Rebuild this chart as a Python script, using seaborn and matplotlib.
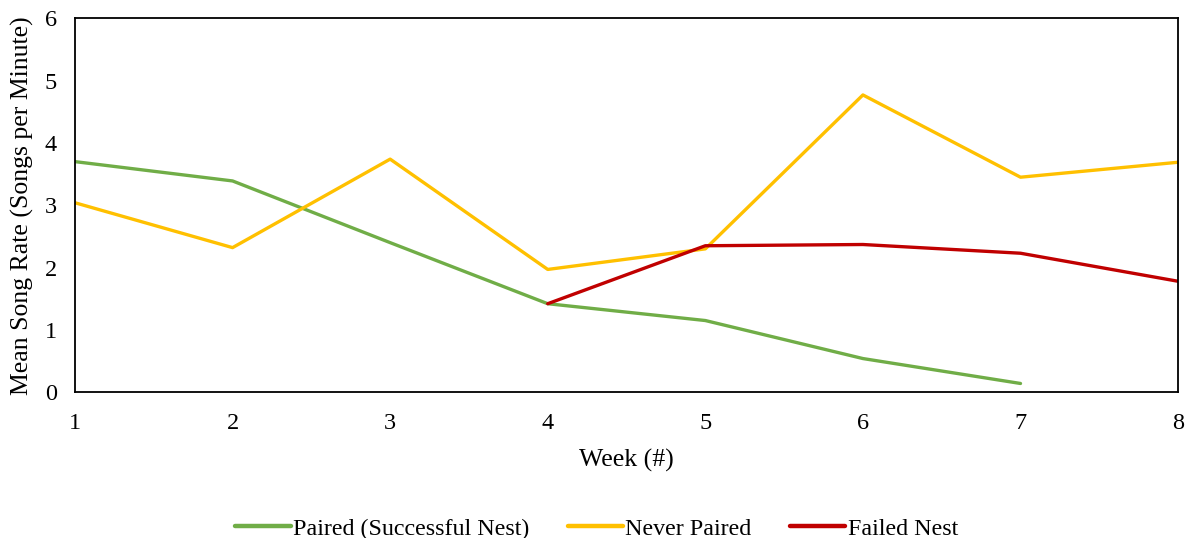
import matplotlib
matplotlib.use("Agg")
import matplotlib.pyplot as plt
import numpy as np
import pandas as pd
import seaborn as sns

weeks = [1, 2, 3, 4, 5, 6, 7, 8]
paired = [3.70, 3.39, 2.40, 1.42, 1.15, 0.54, 0.14, np.nan]
never_paired = [3.04, 2.32, 3.74, 1.97, 2.30, 4.77, 3.45, 3.69]
failed = [np.nan, np.nan, np.nan, 1.42, 2.35, 2.37, 2.23, 1.78]

group_names = ["Paired (Successful Nest)", "Never Paired", "Failed Nest"]
group_colors = ["#70AD47", "#FFC000", "#C00000"]

df = pd.DataFrame({
    "week": weeks * 3,
    "rate": paired + never_paired + failed,
    "group": [group_names[0]] * 8 + [group_names[1]] * 8 + [group_names[2]] * 8,
}).dropna()

sns.set_style("white")
plt.rcParams['font.family'] = ['Liberation Serif', 'DejaVu Serif']
plt.rcParams['text.color'] = 'black'
plt.rcParams['axes.labelcolor'] = 'black'
plt.rcParams['xtick.color'] = 'black'
plt.rcParams['ytick.color'] = 'black'

fig = plt.figure(figsize=(11.9, 5.38), dpi=100)
ax = fig.add_axes([0.063, 0.271, 0.927, 0.695])

sns.lineplot(data=df, x="week", y="rate", hue="group", hue_order=group_names,
             palette=group_colors, linewidth=2.4, ax=ax, legend=True)

ax.set_xlim(1, 8)
ax.set_ylim(0, 6)
ax.set_xticks(weeks)
ax.set_yticks(range(0, 7))
ax.tick_params(axis="x", labelsize=17.5, length=0, pad=15)
ax.tick_params(axis="y", labelsize=17.5, length=0, pad=13)
ax.set_xlabel("Week (#)", fontsize=18.5, labelpad=11)
ax.set_ylabel("Mean Song Rate (Songs per Minute)", fontsize=18.5, labelpad=8)

for sp in ax.spines.values():
    sp.set_visible(True)
    sp.set_color("black")
    sp.set_linewidth(1.3)

handles, labels = ax.get_legend_handles_labels()
leg = ax.legend(handles, labels, loc="center", bbox_to_anchor=(0.473, -0.365),
                ncol=3, frameon=False, fontsize=17.3, handlelength=2.3,
                handletextpad=0.1, columnspacing=1.6)
for h in leg.get_lines():
    h.set_linewidth(3.2)

fig.savefig("out.png", dpi=100)
